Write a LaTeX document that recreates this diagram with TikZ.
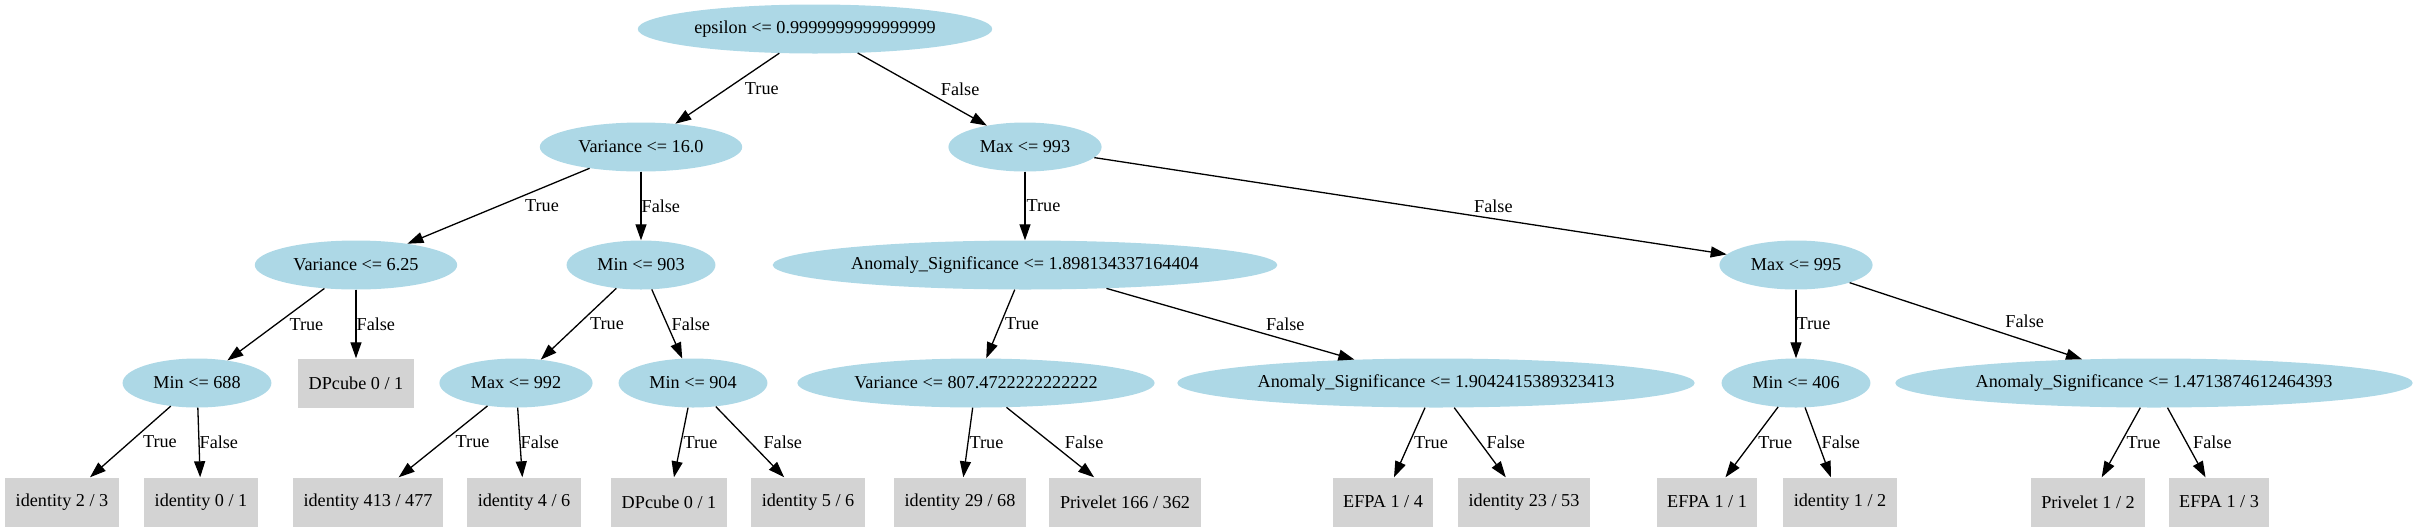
\documentclass[tikz,border=0pt]{standalone}
\usepackage{fontspec}
\setmainfont{Liberation Serif}
\usetikzlibrary{arrows.meta,shapes.geometric}
\definecolor{splitblue}{RGB}{173,216,230}
\definecolor{leafgrey}{RGB}{211,211,211}

\begin{document}
\begin{tikzpicture}[x=1pt,y=-1pt,
 every node/.style={font=\fontsize{18.2}{22}\selectfont},
 split/.style={ellipse,fill=splitblue,inner xsep=9pt,inner ysep=2pt,minimum height=49pt},
 wide/.style={split,inner xsep=4.6pt},
 leaf/.style={rectangle,fill=leafgrey,inner xsep=10.6pt,inner ysep=2pt,minimum height=49pt},
 edge/.style={line width=1.3pt,-{Triangle[length=16pt,width=11pt]}},
 lbl/.style={midway,anchor=west,inner sep=0pt}]
\useasboundingbox (0,0) rectangle (2418,531);
% split nodes
\node[wide] (root) at (815,29) {epsilon <= 0.9999999999999999};
\node[split] (v16) at (641,147) {Variance <= 16.0};
\node[split] (mx993) at (1025,147) {Max <= 993};
\node[split] (v625) at (356,265) {Variance <= 6.25};
\node[split] (mn903) at (641,265) {Min <= 903};
\node[wide] (as898) at (1025,265) {Anomaly\_Significance <= 1.898134337164404};
\node[split] (mx995) at (1796,265) {Max <= 995};
\node[split] (mn688) at (197,383) {Min <= 688};
\node[leaf] (dpA) at (356,383) {DPcube 0 / 1};
\node[split] (mx992) at (516,383) {Max <= 992};
\node[split] (mn904) at (693,383) {Min <= 904};
\node[wide] (v807) at (976,383) {Variance <= 807.4722222222222};
\node[wide] (as904) at (1436,383) {Anomaly\_Significance <= 1.9042415389323413};
\node[split] (mn406) at (1796,383) {Min <= 406};
\node[wide] (as471) at (2154,383) {Anomaly\_Significance <= 1.4713874612464393};
% leaves
\node[leaf] (idA) at (62,502) {identity 2 / 3};
\node[leaf] (idB) at (201,502) {identity 0 / 1};
\node[leaf] (idC) at (368,502) {identity 413 / 477};
\node[leaf] (idD) at (524,502) {identity 4 / 6};
\node[leaf] (dpB) at (669,502) {DPcube 0 / 1};
\node[leaf] (idE) at (808,502) {identity 5 / 6};
\node[leaf] (idF) at (960,502) {identity 29 / 68};
\node[leaf] (pvA) at (1125,502) {Privelet 166 / 362};
\node[leaf] (efA) at (1383,502) {EFPA 1 / 4};
\node[leaf] (idG) at (1524,502) {identity 23 / 53};
\node[leaf] (efB) at (1707,502) {EFPA 1 / 1};
\node[leaf] (idH) at (1840,502) {identity 1 / 2};
\node[leaf] (pvB) at (2088,502) {Privelet 1 / 2};
\node[leaf] (efC) at (2219,502) {EFPA 1 / 3};
% edges
\foreach \a/\b/\t/\s in {root/v16/True/17, root/mx993/False/18,
  v16/v625/True/26, v16/mn903/False/0, mx993/as898/True/1, mx993/mx995/False/63,
  v625/mn688/True/13, v625/dpA/False/0, mn903/mx992/True/11, mn903/mn904/False/4,
  as898/v807/True/4, as898/as904/False/35, mx995/mn406/True/0, mx995/as471/False/39,
  mn688/idA/True/12, mn688/idB/False/0, mx992/idC/True/12, mx992/idD/False/0,
  mn904/dpB/True/2, mn904/idE/False/13, v807/idF/True/1, v807/pvA/False/14,
  as904/efA/True/4, as904/idG/False/6, mn406/efB/True/6, mn406/idH/False/3,
  as471/pvB/True/5, as471/efC/False/6}{
 \draw[edge] (\a) -- node[lbl,xshift=\s pt] {\t} (\b);}
\end{tikzpicture}
\end{document}
